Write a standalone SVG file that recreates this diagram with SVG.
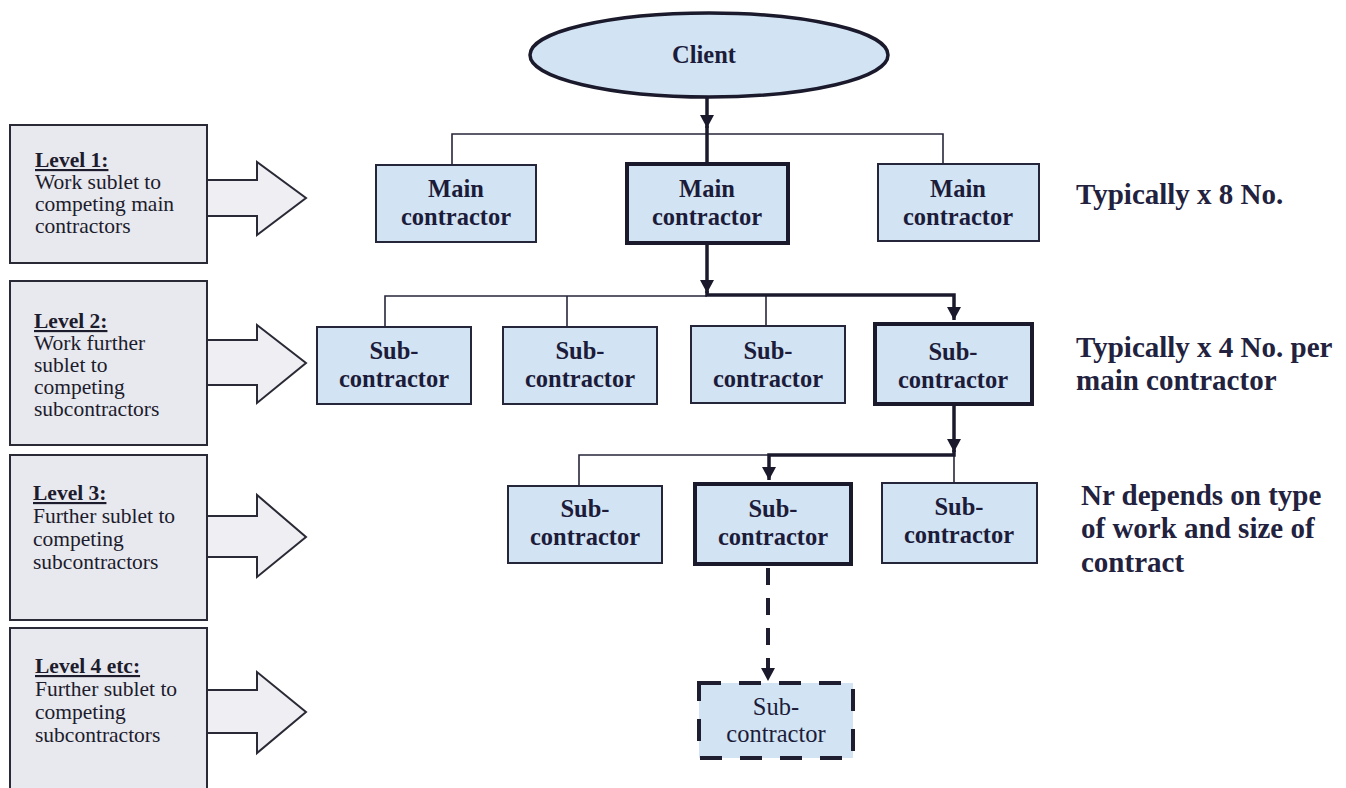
<svg xmlns="http://www.w3.org/2000/svg" width="1346" height="788" viewBox="0 0 1346 788">
  <style>
    .node { fill: #d2e4f4; stroke: #26263a; stroke-width: 2; }
    .node.key { stroke: #1a1a2c; stroke-width: 4; }
    .node.future { stroke: #1e1e30; stroke-width: 4; stroke-dasharray: 22 18; }
    .lbl { font-family: "Liberation Serif", "Times New Roman", serif; font-size: 24.5px; font-weight: bold; fill: #1c1c3a; text-anchor: middle; }
    .lbl.plain { font-weight: normal; }
    .panel { fill: #e8e8ef; stroke: #2a2a36; stroke-width: 2; }
    .pointer { fill: #eeeef3; stroke: #2a2a36; stroke-width: 2; stroke-linejoin: miter; }
    .ptxt { font-family: "Liberation Serif", "Times New Roman", serif; font-size: 21.5px; fill: #1c1c2c; }
    .ptxt .hd { font-weight: bold; text-decoration: underline; }
    .note { font-family: "Liberation Serif", "Times New Roman", serif; font-size: 29px; font-weight: bold; fill: #22223e; }
    .thin { stroke: #26263a; stroke-width: 1.6; fill: none; }
    .thick { stroke: #1a1a2c; stroke-width: 3.5; fill: none; }
    .dash { stroke: #1e1e30; stroke-width: 4; fill: none; stroke-dasharray: 17 13; }
  </style>
  <defs>
    <marker id="head" markerUnits="userSpaceOnUse" markerWidth="14" markerHeight="14" refX="13" refY="7" orient="auto">
      <path d="M0,0 L13,7 L0,14 z" fill="#1a1a2c"/>
    </marker>
  </defs>

  <rect width="1346" height="788" fill="#ffffff"/>

  <!-- level panels with pointing arrows -->
  <g id="level1">
    <polygon class="pointer" points="200,180 257,180 257,162 306,198 257,235 257,216 200,216"/>
    <rect class="panel" x="10" y="125" width="197" height="138"/>
    <text class="ptxt" x="35" y="167"><tspan class="hd">Level 1:</tspan></text>
    <text class="ptxt" x="35" y="189">Work sublet to</text>
    <text class="ptxt" x="35" y="211">competing main</text>
    <text class="ptxt" x="35" y="233">contractors</text>
  </g>
  <g id="level2">
    <polygon class="pointer" points="200,340 257,340 257,325 306,363 257,403 257,385 200,385"/>
    <rect class="panel" x="10" y="281" width="197" height="164"/>
    <text class="ptxt" x="34" y="328"><tspan class="hd">Level 2:</tspan></text>
    <text class="ptxt" x="34" y="350">Work further</text>
    <text class="ptxt" x="34" y="372">sublet to</text>
    <text class="ptxt" x="34" y="394">competing</text>
    <text class="ptxt" x="34" y="416">subcontractors</text>
  </g>
  <g id="level3">
    <polygon class="pointer" points="200,516 257,516 257,495 306,537 257,577 257,557 200,557"/>
    <rect class="panel" x="10" y="455" width="197" height="165"/>
    <text class="ptxt" x="33" y="500"><tspan class="hd">Level 3:</tspan></text>
    <text class="ptxt" x="33" y="523">Further sublet to</text>
    <text class="ptxt" x="33" y="546">competing</text>
    <text class="ptxt" x="33" y="569">subcontractors</text>
  </g>
  <g id="level4">
    <polygon class="pointer" points="200,690 257,690 257,672 306,712 257,753 257,733 200,733"/>
    <rect class="panel" x="10" y="628" width="197" height="172"/>
    <text class="ptxt" x="35" y="673"><tspan class="hd">Level 4 etc:</tspan></text>
    <text class="ptxt" x="35" y="696">Further sublet to</text>
    <text class="ptxt" x="35" y="719">competing</text>
    <text class="ptxt" x="35" y="742">subcontractors</text>
  </g>

  <!-- connectors -->
  <g id="connectors">
    <!-- client to main contractors -->
    <polyline class="thin" points="452,164 452,134 943,134 943,164"/>
    <line class="thick" x1="707" y1="97" x2="707" y2="128" marker-end="url(#head)"/>
    <line class="thick" x1="707" y1="126" x2="707" y2="163"/>
    <!-- main contractor to subcontractors -->
    <polyline class="thin" points="385,327 385,296 707,296"/>
    <line class="thin" x1="567" y1="296" x2="567" y2="327"/>
    <line class="thin" x1="766" y1="296" x2="766" y2="326"/>
    <line class="thick" x1="707" y1="245" x2="707" y2="293" marker-end="url(#head)"/>
    <polyline class="thick" points="707,291 707,295 954,295 954,320" marker-end="url(#head)"/>
    <!-- subcontractor to next tier -->
    <polyline class="thin" points="579,486 579,455 769,455"/>
    <line class="thin" x1="954" y1="455" x2="954" y2="483"/>
    <line class="thick" x1="954" y1="406" x2="954" y2="452" marker-end="url(#head)"/>
    <polyline class="thick" points="954,450 954,455 769,455 769,480" marker-end="url(#head)"/>
    <!-- further tiers -->
    <line class="dash" x1="768" y1="568" x2="768" y2="681" marker-end="url(#head)"/>
  </g>

  <!-- nodes -->
  <g id="client">
    <ellipse cx="709" cy="55" rx="179" ry="42" fill="#d2e4f4" stroke="#1a1a2c" stroke-width="3.5"/>
    <text class="lbl" x="704" y="63">Client</text>
  </g>

  <g id="main1">
    <rect class="node" x="376" y="165" width="160" height="77"/>
    <text class="lbl" x="456" y="197">Main</text>
    <text class="lbl" x="456" y="225">contractor</text>
  </g>
  <g id="main2">
    <rect class="node key" x="627" y="164" width="161" height="79"/>
    <text class="lbl" x="707" y="197">Main</text>
    <text class="lbl" x="707" y="225">contractor</text>
  </g>
  <g id="main3">
    <rect class="node" x="878" y="164" width="161" height="77"/>
    <text class="lbl" x="958" y="197">Main</text>
    <text class="lbl" x="958" y="225">contractor</text>
  </g>

  <g id="sub1">
    <rect class="node" x="317" y="327" width="154" height="77"/>
    <text class="lbl" x="394" y="359">Sub-</text>
    <text class="lbl" x="394" y="387">contractor</text>
  </g>
  <g id="sub2">
    <rect class="node" x="503" y="327" width="154" height="77"/>
    <text class="lbl" x="580" y="359">Sub-</text>
    <text class="lbl" x="580" y="387">contractor</text>
  </g>
  <g id="sub3">
    <rect class="node" x="691" y="326" width="154" height="77"/>
    <text class="lbl" x="768" y="359">Sub-</text>
    <text class="lbl" x="768" y="387">contractor</text>
  </g>
  <g id="sub4">
    <rect class="node key" x="875" y="324" width="157" height="80"/>
    <text class="lbl" x="953" y="360">Sub-</text>
    <text class="lbl" x="953" y="388">contractor</text>
  </g>

  <g id="tier3a">
    <rect class="node" x="508" y="486" width="154" height="77"/>
    <text class="lbl" x="585" y="517">Sub-</text>
    <text class="lbl" x="585" y="545">contractor</text>
  </g>
  <g id="tier3b">
    <rect class="node key" x="695" y="484" width="156" height="80"/>
    <text class="lbl" x="773" y="517">Sub-</text>
    <text class="lbl" x="773" y="545">contractor</text>
  </g>
  <g id="tier3c">
    <rect class="node" x="882" y="483" width="155" height="80"/>
    <text class="lbl" x="959" y="515">Sub-</text>
    <text class="lbl" x="959" y="543">contractor</text>
  </g>

  <g id="tier4">
    <rect class="node future" x="699" y="683" width="154" height="75"/>
    <text class="lbl plain" x="776" y="715">Sub-</text>
    <text class="lbl plain" x="776" y="742">contractor</text>
  </g>

  <!-- tier notes -->
  <g id="notes">
    <text class="note" x="1076" y="204">Typically x 8 No.</text>
    <text class="note" x="1076" y="357">Typically x 4 No. per</text>
    <text class="note" x="1076" y="390">main contractor</text>
    <text class="note" x="1081" y="505">Nr depends on type</text>
    <text class="note" x="1081" y="538">of work and size of</text>
    <text class="note" x="1081" y="572">contract</text>
  </g>
</svg>
